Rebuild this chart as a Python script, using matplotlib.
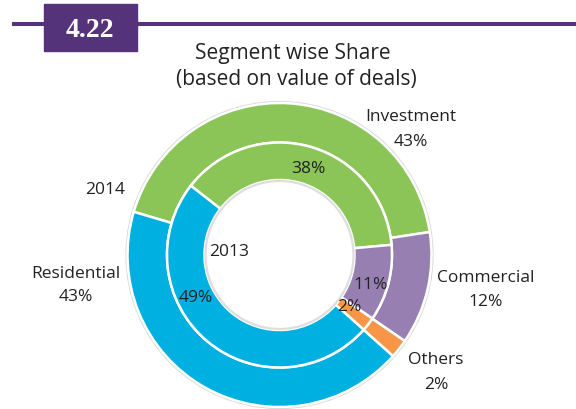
import matplotlib
matplotlib.use("Agg")
import matplotlib.pyplot as plt
from matplotlib.patches import Rectangle, Circle

plt.rcParams['font.family'] = ['Open Sans', 'DejaVu Sans']

segments = ['Investment', 'Commercial', 'Others', 'Residential']
share_2014 = [43, 12, 2, 43]
share_2013 = [38, 11, 2, 49]
colors = ['#8BC557', '#9780B1', '#F79647', '#00B0E0']

W, H = 576, 410
fig = plt.figure(figsize=(W / 100, H / 100), dpi=100)
ax = fig.add_axes([0, 0, 1, 1])

cx, cy = 279.5, H - 256
r_out, r_mid, r_in = 152, 112.5, 75

# soft rim around the doughnut and its hole
ax.add_patch(Circle((cx, cy), r_out + 1, fill=False, ec='#c8c8c8', lw=1.6, alpha=0.7, zorder=0))
ax.add_patch(Circle((cx, cy), r_in - 1, fill=False, ec='#d0d0d0', lw=1.6, alpha=0.7, zorder=3))

# outer ring = 2014, inner ring = 2013
ax.pie(share_2014, colors=colors, startangle=163.5, counterclock=False,
       radius=r_out, center=(cx, cy),
       wedgeprops=dict(width=r_out - r_mid, edgecolor='white', linewidth=1.8))
ax.pie(share_2013, colors=colors, startangle=142, counterclock=False,
       radius=r_mid, center=(cx, cy),
       wedgeprops=dict(width=r_mid - r_in, edgecolor='white', linewidth=1.8))

ax.set_xlim(0, W)
ax.set_ylim(0, H)
ax.set_aspect('equal')
ax.axis('off')

# header bar
purple = '#55337B'
ax.plot([12, W], [H - 24.7, H - 24.7], color=purple, lw=2.9, solid_capstyle='butt', zorder=1)
ax.add_patch(Rectangle((44, H - 52), 93, 47, color=purple, zorder=2))
ax.text(89.5, H - 37, '4.22', color='white', fontsize=20, fontweight='bold',
        family='Liberation Serif', ha='center', va='baseline', zorder=3)

tc = '#222222'
ax.text(292.5, H - 59, 'Segment wise Share', fontsize=15, color=tc, ha='center', va='baseline')
ax.text(296, H - 85, '(based on value of deals)', fontsize=15, color=tc, ha='center', va='baseline')

fs = 12.5
# (x, baseline of name, baseline of percent)
outer_labels = [(410.5, 121, 146), (486, 282, 306), (436, 364.5, 389), (75.5, 278, 301)]
for name, val, (x, y1, y2) in zip(segments, share_2014, outer_labels):
    ax.text(x, H - y1, name, fontsize=fs, color=tc, ha='center', va='baseline')
    ax.text(x, H - y2, f'{val}%', fontsize=fs, color=tc, ha='center', va='baseline')

inner_labels = [(308, 173.5), (370.5, 289.5), (349.5, 311), (196, 302)]
for val, (x, y) in zip(share_2013, inner_labels):
    ax.text(x, H - y, f'{val}%', fontsize=fs, color=tc, ha='center', va='baseline', zorder=5)

ax.text(105, H - 194.5, '2014', fontsize=fs, color=tc, ha='center', va='baseline')
ax.text(229, H - 256.5, '2013', fontsize=fs, color=tc, ha='center', va='baseline', zorder=5)

fig.savefig('out.png', dpi=100)
